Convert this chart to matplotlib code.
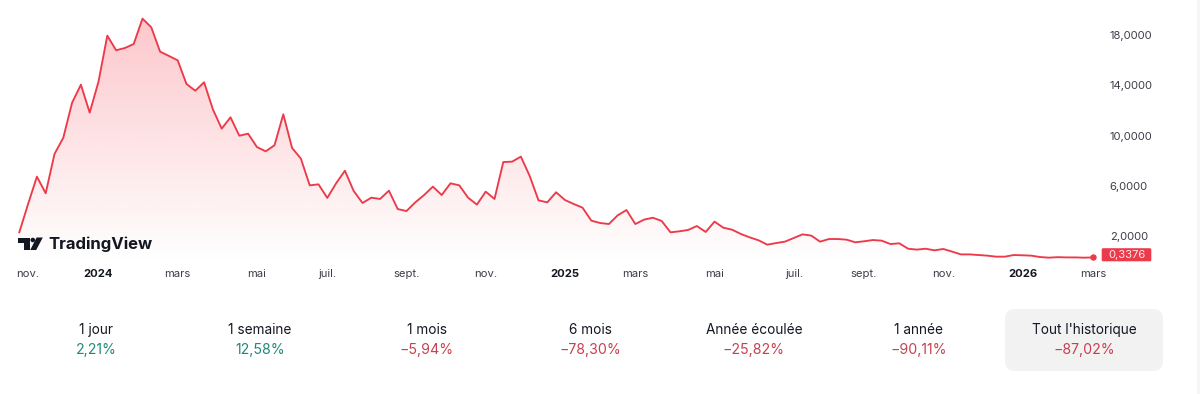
import numpy as np
import matplotlib
matplotlib.use('Agg')
import matplotlib.pyplot as plt
from matplotlib.patches import FancyBboxPatch, Polygon, Circle, Rectangle

# weekly closes
prices = [2.33, 4.58, 6.75, 5.43, 8.55, 9.84, 12.62, 14.05, 11.83, 14.29,
          17.94, 16.78, 16.96, 17.28, 19.29, 18.60, 16.67, 16.33, 15.98, 14.10,
          13.57, 14.24, 12.09, 10.56, 11.46, 10.00, 10.16, 9.10, 8.76, 9.24,
          11.70, 9.02, 8.18, 6.06, 6.14, 5.06, 6.22, 7.22, 5.61, 4.66,
          5.08, 4.98, 5.64, 4.18, 4.02, 4.71, 5.29, 5.96, 5.29, 6.22,
          6.06, 5.08, 4.53, 5.56, 4.98, 7.91, 7.94, 8.34, 6.80, 4.87,
          4.71, 5.51, 4.90, 4.58, 4.29, 3.26, 3.07, 2.99, 3.68, 4.10,
          2.99, 3.34, 3.49, 3.23, 2.33, 2.41, 2.52, 2.83, 2.36, 3.18,
          2.70, 2.54, 2.20, 1.93, 1.70, 1.35, 1.48, 1.59, 1.88, 2.17,
          2.07, 1.59, 1.80, 1.80, 1.75, 1.54, 1.62, 1.72, 1.67, 1.40,
          1.46, 1.03, 0.96, 1.03, 0.90, 1.01, 0.80, 0.58, 0.58, 0.53,
          0.48, 0.40, 0.40, 0.53, 0.51, 0.48, 0.37, 0.32, 0.36, 0.34,
          0.34, 0.32, 0.3376]

x_tick_pos = [1, 9, 18, 27, 35, 44, 53, 62, 70, 79, 88, 96, 105, 114, 122]
x_tick_labels = ['nov.', '2024', 'mars', 'mai', 'juil.', 'sept.', 'nov.', '2025',
                 'mars', 'mai', 'juil.', 'sept.', 'nov.', '2026', 'mars']
y_ticks = [2, 6, 10, 14, 18]
y_tick_labels = ['2,0000', '6,0000', '10,0000', '14,0000', '18,0000']

periods = ['1 jour', '1 semaine', '1 mois', '6 mois', 'Année écoulée', '1 année', "Tout l'historique"]
changes = ['2,21%', '12,58%', '−5,94%', '−78,30%', '−25,82%', '−90,11%', '−87,02%']
change_up = [True, True, False, False, False, False, False]
period_x = [96, 260, 427, 590, 754, 919, 1084]

RED = '#ec3a4b'
TXT = '#131722'
W, H = 1200, 394

plt.rcParams['font.family'] = ['Inter', 'DejaVu Sans']

fig = plt.figure(figsize=(W / 100, H / 100), dpi=100)

# price pane: 8.8 px per week, 12.6 px per unit, first point at x=19.3, 2.0 at y=236.5
pane_right, pane_bottom = 1100, 262
ax = fig.add_axes([0, 1 - pane_bottom / H, pane_right / W, pane_bottom / H])
x = np.arange(len(prices))
ax.set_xlim(-19.3 / 8.8, (pane_right - 19.3) / 8.8)
ax.set_ylim(2 - (pane_bottom - 236.5) / 12.6, 2 + 236.5 / 12.6)

# area gradient clipped to the region under the line
area = ax.fill_between(x, prices, ax.get_ylim()[0], color='none')
grad = np.zeros((256, 1, 4))
grad[..., :3] = matplotlib.colors.to_rgb('#f8303f')
grad[..., 3] = np.linspace(0.27, 0.0, 256)[:, None]
img = ax.imshow(grad, aspect='auto', origin='upper', zorder=1,
                extent=[x[0], x[-1], ax.get_ylim()[0], prices[14]])
img.set_clip_path(area.get_paths()[0], transform=ax.transData)

ax.plot(x, prices, color=RED, lw=1.35, zorder=3, solid_joinstyle='round')
ax.plot(x[-1], prices[-1], 'o', color=RED, ms=3.6, zorder=4)

for s in ax.spines.values():
    s.set_visible(False)
ax.yaxis.tick_right()
ax.set_yticks(y_ticks)
ax.set_yticklabels(y_tick_labels)
ax.set_xticks(x_tick_pos)
ax.set_xticklabels(x_tick_labels)
ax.tick_params(axis='both', length=0, labelcolor='#3c3f48', labelsize=8.1)
ax.tick_params(axis='x', pad=5)
ax.tick_params(axis='y', pad=7)
for lab in ax.get_xticklabels():
    if lab.get_text().isdigit():
        lab.set_fontweight('bold')
        lab.set_color(TXT)

# overlay in pixel coordinates for the logo, price tag and stats row
ui = fig.add_axes([0, 0, 1, 1], facecolor='none')
ui.set_xlim(0, W)
ui.set_ylim(H, 0)
ui.axis('off')

# faint edge on the right of the screenshot
ui.add_patch(Rectangle((1197, 0), 3, H, fc='#f6f6f6', ec='none'))

# logo
ui.add_patch(Polygon([(17.5, 237.5), (29.5, 237.5), (29.5, 250), (23.8, 250), (23.8, 243), (17.5, 243)], color=TXT, lw=0))
ui.add_patch(Circle((32.8, 240), 2.3, color=TXT, lw=0))
ui.add_patch(Polygon([(36.2, 250), (30.2, 250), (36.6, 237.5), (42.8, 237.5)], color=TXT, lw=0))
ui.text(48.8, 244.5, 'TradingView', fontsize=12, fontweight='bold', color=TXT, ha='left', va='center')

# last price tag
ui.add_patch(FancyBboxPatch((1102, 248.5), 49, 12.5, boxstyle='round,pad=0.3,rounding_size=1.5', fc=RED, ec='none'))
ui.text(1127, 255, '0,3376', fontsize=8.1, color='#fdeaec', ha='center', va='center')

# selected period card
ui.add_patch(FancyBboxPatch((1005, 309), 158, 62, boxstyle='round,pad=0,rounding_size=10', fc='#f2f2f2', ec='none'))

for px, period, change, up in zip(period_x, periods, changes, change_up):
    ui.text(px, 330, period, fontsize=9.8, color=TXT, ha='center', va='center')
    ui.text(px, 350, change, fontsize=10.2, color='#1f8a78' if up else '#c7404f', ha='center', va='center')

fig.savefig('out.png', dpi=100)
